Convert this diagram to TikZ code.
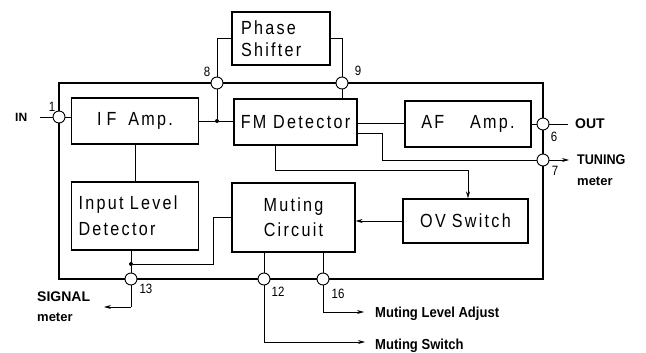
\documentclass[tikz,border=0pt]{standalone}
\usepackage{fontspec}
\setmainfont{Liberation Sans}
\newfontfamily\boxfont[FakeStretch=0.85,LetterSpace=12]{Liberation Sans}
\newfontfamily\lblfont[FakeStretch=0.9]{Liberation Sans}
\newfontfamily\numfont[FakeStretch=0.85]{Liberation Sans}
\usetikzlibrary{arrows.meta}
\begin{document}
\begin{tikzpicture}[x=1pt,y=-1pt,
  blk/.style={draw, line width=1.3pt, inner sep=0pt, font=\boxfont\fontsize{19}{26}\selectfont},
  pin/.style={circle, draw, fill=white, line width=0.9pt, minimum size=12pt, inner sep=0pt},
  wire/.style={line width=0.8pt},
  frame/.style={line width=1.7pt},
  num/.style={font=\numfont\fontsize{13.5}{14}\selectfont, inner sep=0pt},
  ext/.style={font=\fontseries{b}\fontsize{14}{15}\selectfont, inner sep=0pt},
  small/.style={font=\fontseries{b}\fontsize{13}{14}\selectfont, inner sep=0pt},
  mut/.style={font=\lblfont\bfseries\fontsize{14.5}{15}\selectfont, inner sep=0pt},
  arr/.style={-{Stealth[length=7pt,width=4pt]}},
  jdot/.style={circle, fill, inner sep=0pt, minimum size=4pt}
]
\useasboundingbox (0,0) rectangle (646,353);

% blocks
\node[blk, font=\boxfont\fontsize{19}{22}\selectfont, minimum width=98pt, minimum height=53pt, inner xsep=9pt, text width=80pt, align=left] (ps) at (281,38.5) {Phase\\Shifter};
\node[blk, minimum width=127pt, minimum height=46pt] (ifa) at (135,121) {I\hspace{5pt}F\hspace{12pt}Amp.};
\node[blk, minimum width=123pt, minimum height=46pt] (fm) at (295.5,122) {FM Detector};
\node[blk, minimum width=126pt, minimum height=46pt] (af) at (468,124) {AF\hspace{26pt}Amp.};
\node[blk, minimum width=127pt, minimum height=68pt, inner xsep=7pt, text width=113pt, align=left] (ild) at (135,216) {Input Level\\Detector};
\node[blk, font=\boxfont\fontsize{19}{25}\selectfont, minimum width=123pt, minimum height=69pt, align=center] (mc) at (293.5,217.5) {Muting\\Circuit};
\node[blk, minimum width=125pt, minimum height=44pt] (ov) at (465.5,221) {OV\hspace{6pt}Switch};

% frame
\draw[frame] (59,83) rectangle (543,279);

% pins
\node[pin] (p1) at (59,117) {};
\node[pin] (p8) at (217,83) {};
\node[pin] (p9) at (342,83) {};
\node[pin] (p6) at (543,124) {};
\node[pin] (p7) at (543,160) {};
\node[pin] (p13) at (131,279) {};
\node[pin] (p12) at (264,279) {};
\node[pin] (p16) at (323,279) {};

\node[num] (n1) at (52,107) {1};
\node[num] (n8) at (207,72) {8};
\node[num] (n9) at (358,71) {9};
\node[num] (n6) at (554,137) {6};
\node[num] (n7) at (555,171) {7};
\node[num] (n13) at (146,289) {13};
\node[num] (n12) at (278,292) {12};
\node[num] (n16) at (338,294) {16};

% junctions and helper coordinates
\node[jdot] (j1) at (217,121) {};
\node[jdot] (j2) at (131,264) {};
\coordinate (inend) at (40,117);
\coordinate (outend) at (568,124);
\coordinate (tun) at (569,160);
\coordinate (k1) at (382,133);
\coordinate (k2) at (275,170);
\coordinate (k3) at (468,170);
\coordinate (k4) at (213,217);
\coordinate (k5) at (131,307);
\coordinate (sig) at (104,307);
\coordinate (k6) at (264,342);
\coordinate (msw) at (365,342);
\coordinate (k7) at (323,312);
\coordinate (mla) at (364,312);

% external labels
\node[ext, anchor=west, font=\fontseries{b}\fontsize{12}{13}\selectfont] (inl) at (15,117) {IN};
\node[ext, anchor=west] (outl) at (575,124) {OUT};
\node[ext, anchor=west, font=\lblfont\bfseries\fontsize{14}{15}\selectfont] (tunl) at (577,160) {TUNING};
\node[small, anchor=west] (tunm) at (577,181) {meter};
\node[ext, anchor=west] (sigl) at (37,297) {SIGNAL};
\node[small, anchor=west] (sigm) at (37,317) {meter};
\node[mut, anchor=west] (mlal) at (375,314) {Muting Level Adjust};
\node[mut, anchor=west] (mswl) at (375,346) {Muting Switch};

% wires
\draw[wire] (inend) -- (p1.west);
\draw[wire] (p1.east) -- (ifa.west |- p1);
\draw[wire] (ifa.east |- j1) -- (j1) -- (fm.west |- j1);
\draw[wire] (p8.south) -- (j1);
\draw[wire] (p8.north) |- (ps.west);
\draw[wire] (p9.north) |- (ps.east);
\draw[wire] (p9.south) -- (p9.south |- fm.north);
\draw[wire] (fm.east |- 0,123) -- (af.west |- 0,123);
\draw[wire] (af.east |- p6) -- (p6.west);
\draw[wire] (p6.east) -- (outend);
\draw[wire] (fm.east |- k1) -- (k1) |- (p7.west);
\draw[wire, arr] (p7.east) -- (tun);
\draw[wire] (fm.south -| k2) -- (k2) -- (k3);
\draw[wire, arr] (k3) -- (k3 |- ov.north);
\draw[wire] (ifa.south) -- (ild.north);
\draw[wire, arr] (ov.west) -- (mc.east |- ov.west);
\draw[wire] (ild.south -| j2) -- (j2) -- (p13.north);
\draw[wire] (j2) -| (k4) -- (mc.west |- k4);
\draw[wire] (p13.south) -- (k5);
\draw[wire, arr] (k5) -- (sig);
\draw[wire] (mc.south -| p12) -- (p12.north);
\draw[wire] (p12.south) -- (k6);
\draw[wire, arr] (k6) -- (msw);
\draw[wire] (mc.south -| p16) -- (p16.north);
\draw[wire] (p16.south) -- (k7);
\draw[wire, arr] (k7) -- (mla);
\end{tikzpicture}
\end{document}
